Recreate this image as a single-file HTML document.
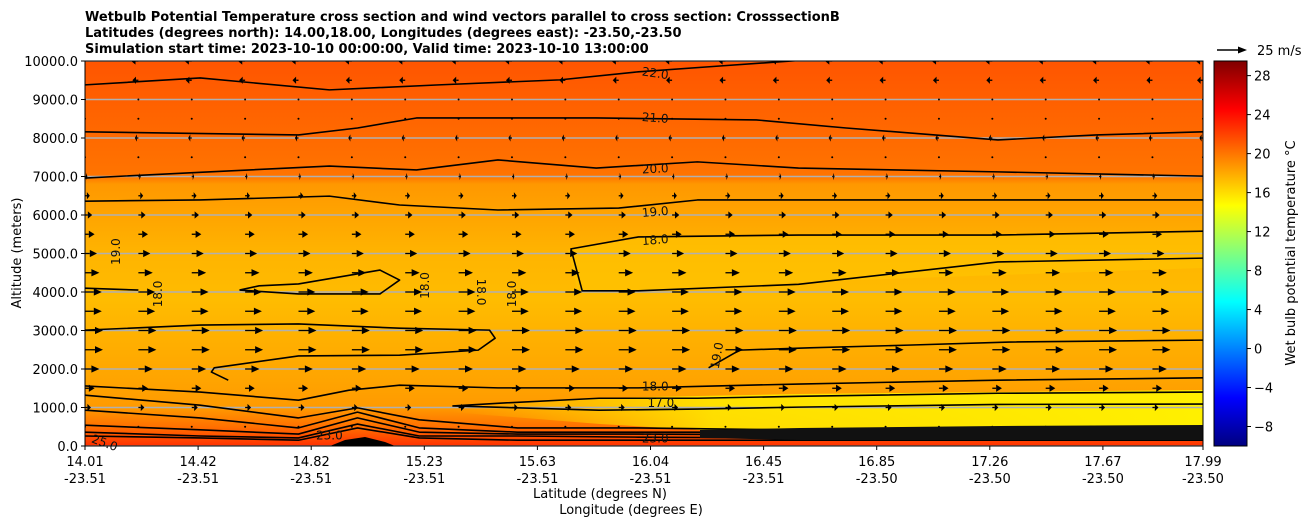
<!DOCTYPE html>
<html><head><meta charset="utf-8">
<style>
body{margin:0;background:#fff;}
svg{display:block;font-family:"DejaVu Sans","Liberation Sans",sans-serif;}
</style></head>
<body>
<svg id="chart" width="1311" height="526" viewBox="0 0 1311 526">
<defs>
<linearGradient id="bg" x1="0" y1="0" x2="0" y2="1">
<stop offset="0" stop-color="#ff5500"/>
<stop offset="0.16" stop-color="#ff6600"/>
<stop offset="0.30" stop-color="#ff7400"/>
<stop offset="0.32" stop-color="#ff9800"/>
<stop offset="0.40" stop-color="#ffa400"/>
<stop offset="0.50" stop-color="#ffb400"/>
<stop offset="0.62" stop-color="#ffbc00"/>
<stop offset="0.72" stop-color="#ffb000"/>
<stop offset="0.83" stop-color="#ffa400"/>
<stop offset="0.90" stop-color="#ff9a00"/>
<stop offset="0.95" stop-color="#ff7000"/>
<stop offset="1" stop-color="#ff3000"/>
</linearGradient>
<linearGradient id="yel" x1="0" y1="0" x2="1" y2="0">
<stop offset="0" stop-color="#ffe000" stop-opacity="0"/>
<stop offset="0.35" stop-color="#ffe800" stop-opacity="0.9"/>
<stop offset="1" stop-color="#fff000" stop-opacity="1"/>
</linearGradient>
<linearGradient id="jet" x1="0" y1="1" x2="0" y2="0">
<stop offset="0" stop-color="#00007f"/>
<stop offset="0.125" stop-color="#0000ff"/>
<stop offset="0.375" stop-color="#00ffff"/>
<stop offset="0.625" stop-color="#ffff00"/>
<stop offset="0.875" stop-color="#ff0000"/>
<stop offset="1" stop-color="#7f0000"/>
</linearGradient>
<clipPath id="plotclip"><rect x="85" y="61" width="1118" height="385"/></clipPath>
</defs>
<g font-weight="bold" font-size="13">
<text x="85" y="21">Wetbulb Potential Temperature cross section and wind vectors parallel to cross section: CrosssectionB</text>
<text x="85" y="37">Latitudes (degrees north): 14.00,18.00, Longitudes (degrees east): -23.50,-23.50</text>
<text x="85" y="53">Simulation start time: 2023-10-10 00:00:00, Valid time: 2023-10-10 13:00:00</text>
</g>
<g id="plot" clip-path="url(#plotclip)">
<rect x="85" y="61" width="1118" height="385" fill="url(#bg)"/>
<path d="M450,406 L600,398 L800,394 L1203,390 L1203,428 L700,430 L600,424 L450,412Z" fill="url(#yel)"/>
<path d="M568,250 L640,238 L1203,232 L1203,268 L800,282 L640,292 L578,292Z" fill="#ffc400" opacity="0.6"/>
<g id="grid"></g>
<g id="contours"></g>
<g id="arrows"></g>
<path d="M330,446 L345,440 L365,437 L385,442 L395,446Z" fill="#000"/>
<path d="M700,430 L800,428 L1000,426 L1203,425 L1203,440 L1000,440 L800,440 L700,438Z" fill="#111"/>
</g>
<rect x="85" y="61" width="1118" height="385" fill="none" stroke="#000" stroke-width="1"/>
<g id="labels" font-size="12" fill="#111"></g>
<g id="yaxis" font-size="13"></g>
<g id="xaxis" font-size="13"></g>
<text x="600" y="498" font-size="13" text-anchor="middle">Latitude (degrees N)</text>
<text x="631" y="514" font-size="13" text-anchor="middle">Longitude (degrees E)</text>
<text transform="translate(21,253) rotate(-90)" font-size="13" text-anchor="middle">Altitude (meters)</text>
<g>
<line x1="1217" y1="50" x2="1240" y2="50" stroke="#000" stroke-width="1.6"/>
<polygon points="1247,50 1238,46.5 1238,53.5" fill="#000"/>
<text x="1257" y="55" font-size="13">25 m/s</text>
</g>
<rect x="1214" y="61" width="33" height="385" fill="url(#jet)" stroke="#000" stroke-width="1"/>
<g id="cbticks" font-size="13"></g>
<text transform="translate(1295,253) rotate(-90)" font-size="13" text-anchor="middle">Wet bulb potential temperature °C</text>
</svg>
<script>
// ---- data ----
const latMin = 14.01, latMax = 17.99;
const altMax = 10000;
const yTicks = [0,1000,2000,3000,4000,5000,6000,7000,8000,9000,10000];
const xTickLat = ["14.01","14.42","14.82","15.23","15.63","16.04","16.45","16.85","17.26","17.67","17.99"];
const xTickLon = ["-23.51","-23.51","-23.51","-23.51","-23.51","-23.51","-23.51","-23.50","-23.50","-23.50","-23.50"];
const cbTicks = [-8,-4,0,4,8,12,16,20,24,28];
const cbMin = -10, cbMax = 29.5;
// contours: [lat, altitude m] pairs
const c22 = [[14.01,9380],[14.42,9560],[14.88,9250],[15.27,9380],[15.70,9510],[15.98,9720],[16.27,9870],[16.62,10050]];
const c21 = [[14.01,8160],[14.77,8080],[14.98,8260],[15.19,8520],[15.83,8520],[16.40,8470],[16.72,8260],[17.26,7950],[17.61,8080],[17.99,8160]];
const c20 = [[14.01,6960],[14.42,7110],[14.88,7270],[15.19,7170],[15.48,7430],[15.83,7220],[16.19,7380],[16.55,7220],[17.26,7120],[17.99,7010]];
const c19 = [[14.01,6360],[14.42,6390],[14.88,6490],[15.13,6260],[15.48,6130],[15.91,6180],[16.19,6390],[16.55,6390],[17.26,6390],[17.99,6390]];
const c18up = [[17.99,4880],[17.26,4780],[16.55,4200],[15.98,4030],[15.78,4030],[15.74,5120],[15.98,5430],[16.55,5480],[17.26,5480],[17.99,5580]];
const c18a = [[14.01,4100],[14.20,4050]];
const c18loop = [[14.56,4050],[14.63,4160],[14.77,4210],[15.06,4570],[15.13,4310],[15.06,3950],[14.77,3950],[14.56,4050]];
const c18b = [[14.01,3010],[14.42,3140],[14.77,3170],[15.13,3060],[15.45,3010],[15.47,2800],[15.41,2490],[15.13,2360],[14.77,2340],[14.47,2030],[14.46,1920],[14.52,1710]];
const c19r = [[16.23,2030],[16.34,2490],[16.59,2550],[16.94,2620],[17.30,2700],[17.99,2750]];
const c18low = [[14.01,1560],[14.42,1400],[14.77,1190],[14.95,1450],[15.13,1580],[15.48,1510],[15.83,1510],[15.98,1510],[16.26,1560],[16.55,1610],[17.26,1710],[17.99,1770]];
const c17 = [[17.99,1090],[17.26,1080],[16.55,1010],[16.19,960],[15.84,930],[15.32,1040],[15.48,1110],[15.84,1240],[16.19,1240],[16.55,1290],[17.26,1370],[17.99,1400]];
const cLow1 = [[14.01,1320],[14.42,1060],[14.77,730],[14.98,990],[15.20,680],[15.55,470],[15.98,470],[16.55,415],[17.26,470],[17.99,470]];
const cLow2 = [[14.01,930],[14.42,730],[14.77,470],[14.98,880],[15.20,470],[15.55,360],[15.98,360],[16.55,360],[17.26,360],[17.99,360]];
const cLow3 = [[14.01,540],[14.42,420],[14.77,310],[14.98,730],[15.20,360],[15.55,310],[15.98,310],[16.55,290],[17.26,290],[17.99,290]];
const cLow4 = [[14.01,360],[14.42,260],[14.77,210],[14.98,570],[15.20,260],[15.55,260],[15.98,230],[16.55,210],[17.26,210],[17.99,210]];
const cLow5 = [[14.01,260],[14.42,210],[14.77,150],[14.98,470],[15.20,210],[15.55,150],[15.98,150],[16.55,150],[17.26,150],[17.99,150]];
const contours = [c22,c21,c20,c19,c18up,c18a,c18loop,c18b,c19r,c18low,c17,cLow1,cLow2,cLow3,cLow4,cLow5];
const contourNames = ["contour-22","contour-21","contour-20","contour-19","contour-18-upper","contour-18-left","contour-18-loop","contour-18-mid","contour-19-right","contour-18-low","contour-17","contour-low-1","contour-low-2","contour-low-3","contour-low-4","contour-low-5"];
// wind rows (altitude m) and along-section speed (m/s)
const windAlt = [10000,9500,9000,8500,8000,7500,7000,6500,6000,5500,5000,4500,4000,3500,3000,2500,2000,1500,1000,500];
const windU   = [-6,-5,-1,0,-3,0,2,4,6,8,10,12,14,14,15,15,12,8,5,0];
const windLat = [14.01,14.20,14.39,14.58,14.77,14.96,15.15,15.34,15.53,15.72,15.91,16.10,16.29,16.48,16.67,16.86,17.05,17.24,17.43,17.62,17.81,17.99];
// contour labels: [text, lat, alt, rotation]
const cLabels = [["22.0",16.04,9680,8],["21.0",16.04,8520,4],["20.0",16.04,7200,-3],["19.0",16.04,6080,-5],["18.0",16.04,5350,-5],
["18.0",16.04,1540,0],["17.0",16.06,1120,0],["23.0",16.04,190,0],["19.0",14.12,5050,-90],["18.0",14.27,3950,-90],
["18.0",15.22,4170,-90],["18.0",15.42,4000,90],["18.0",15.53,3950,-90],["19.0",16.26,2350,-80],["23.0",14.88,270,0],["25.0",14.08,80,20]];
// ---- scales ----
const X0=85,X1=1203,Y0=446,Y1=61;
const sx = lat => X0 + (lat-latMin)/(latMax-latMin)*(X1-X0);
const sy = alt => Y0 - alt/altMax*(Y0-Y1);
const NS="http://www.w3.org/2000/svg";
const mk=(t,a,p)=>{const e=document.createElementNS(NS,t);for(const k in a)e.setAttribute(k,a[k]);p.appendChild(e);return e;};
const grid=document.getElementById('grid');
yTicks.forEach(v=>{const l=mk('line',{x1:X0,x2:X1,y1:sy(v),y2:sy(v),stroke:'#b0b0b0','stroke-width':1.5},grid);

});
const cg=document.getElementById('contours');
contours.forEach((c,i)=>{const p=mk('polyline',{points:c.map(d=>sx(d[0])+','+sy(d[1])).join(' '),fill:'none',stroke:'#000','stroke-width':1.6,'stroke-linejoin':'round'},cg);

});
const ag=document.getElementById('arrows');
const pxPerMs = 30/25;
windAlt.forEach((a,r)=>{windLat.forEach(lt=>{
 const x=sx(lt), y=sy(a), L=windU[r]*pxPerMs, g=document.createElementNS(NS,'g');
 
 
 ag.appendChild(g);
 if(Math.abs(L)<1.5){mk('circle',{cx:x,cy:y,r:1,fill:'#000'},g);return;}
 const s=Math.sign(L), hl=Math.min(8,Math.abs(L)*0.6), hw=3.6;
 mk('line',{x1:x,y1:y,x2:x+L-s*hl,y2:y,stroke:'#000','stroke-width':1.3},g);
 mk('polygon',{points:`${x+L},${y} ${x+L-s*hl},${y-hw} ${x+L-s*hl},${y+hw}`,fill:'#000'},g);
});});
const lg=document.getElementById('labels');
cLabels.forEach(d=>{const x=sx(d[1]),y=sy(d[2]);const t=mk('text',{x:x,y:y+4,'text-anchor':'middle',transform:`rotate(${d[3]} ${x} ${y})`},lg);t.textContent=d[0];

});
const ya=document.getElementById('yaxis');
yTicks.forEach(v=>{mk('line',{x1:X0-4,x2:X0,y1:sy(v),y2:sy(v),stroke:'#000'},ya);
const t=mk('text',{x:X0-7,y:sy(v)+5,'text-anchor':'end'},ya);t.textContent=v.toFixed(1);

});
const xa=document.getElementById('xaxis');
xTickLat.forEach((lt,i)=>{const x= i===xTickLat.length-1 ? X1 : X0+i*113.1;
mk('line',{x1:x,x2:x,y1:Y0,y2:Y0+4,stroke:'#000'},xa);
const t=mk('text',{x:x,y:Y0+20,'text-anchor':'middle'},xa);t.textContent=lt;


const t2=mk('text',{x:x,y:Y0+37,'text-anchor':'middle'},xa);t2.textContent=xTickLon[i];

});
const cb=document.getElementById('cbticks');
cbTicks.forEach(v=>{const y=Y0-(v-cbMin)/(cbMax-cbMin)*(Y0-Y1);
mk('line',{x1:1247,x2:1251,y1:y,y2:y,stroke:'#000'},cb);
const t=mk('text',{x:1254,y:y+5},cb);t.textContent=(v<0?'\u2212'+(-v):v);

});
</script>
</body></html>
